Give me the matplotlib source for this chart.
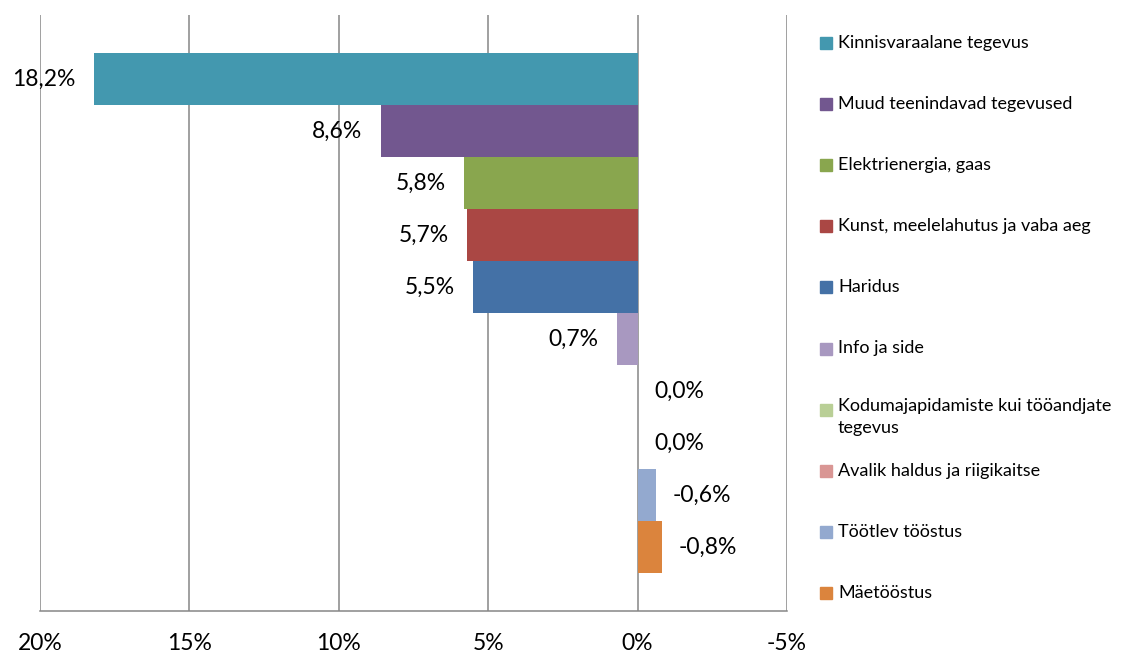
import matplotlib
matplotlib.use("Agg")
import matplotlib.pyplot as plt
from matplotlib.patches import Rectangle

plt.rcParams['font.family'] = ['Lato', 'DejaVu Sans']

# data (top to bottom)
categories = [
    "Kinnisvaraalane tegevus",
    "Muud teenindavad tegevused",
    "Elektrienergia, gaas",
    "Kunst, meelelahutus ja vaba aeg",
    "Haridus",
    "Info ja side",
    "Kodumajapidamiste kui tööandjate\ntegevus",
    "Avalik haldus ja riigikaitse",
    "Töötlev tööstus",
    "Mäetööstus",
]
values = [18.2, 8.6, 5.8, 5.7, 5.5, 0.7, 0.0, 0.0, -0.6, -0.8]
colors = ["#4398AF", "#72578F", "#89A64E", "#AA4744", "#4471A6",
          "#A898C0", "#B9CF96", "#D99694", "#93A9CF", "#DB843D"]
xticks = [20, 15, 10, 5, 0, -5]

W, H = 1143, 655
fig = plt.figure(figsize=(W / 100, H / 100), dpi=100)
ax = fig.add_axes([40 / W, (H - 611) / H, (787 - 40) / W, (611 - 15) / H])

pos = list(range(len(values)))
ax.barh(pos, values, height=1.0, color=colors, zorder=3)

ax.set_xlim(20, -5)
ax.set_ylim(9.5 + 0.73, -0.5 - 0.73)
ax.set_xticks(xticks)
ax.set_xticklabels([f"{t}%" for t in xticks], fontsize=16.5)
ax.tick_params(axis='x', length=0, pad=16)
ax.set_yticks([])
ax.grid(axis='x', color='#868686', linewidth=1.1, zorder=0)
for s in ['top', 'right', 'left']:
    ax.spines[s].set_visible(False)
ax.spines['bottom'].set_color('#868686')
ax.spines['bottom'].set_linewidth(1.1)

for p, v in zip(pos, values):
    txt = f"{v:.1f}%".replace('.', ',')
    if v > 0:
        ax.annotate(txt, (v, p), xytext=(-13, 0), textcoords='offset points',
                    ha='right', va='center', fontsize=16.5)
    else:
        ax.annotate(txt, (v, p), xytext=(12, 0), textcoords='offset points',
                    ha='left', va='center', fontsize=16.5)

# legend on the right
for i, (lab, c) in enumerate(zip(categories, colors)):
    yc = 43 + 61.1 * i
    fig.patches.append(Rectangle((820 / W, 1 - (yc + 6) / H), 12 / W, 12 / H,
                                 color=c, transform=fig.transFigure, figure=fig))
    if "\n" in lab:
        fig.text(838 / W, 1 - (yc - 12) / H, lab, ha='left', va='top',
                 fontsize=13, linespacing=1.5)
    else:
        fig.text(838 / W, 1 - yc / H, lab, ha='left', va='center', fontsize=13)

fig.savefig("out.png", dpi=100)
